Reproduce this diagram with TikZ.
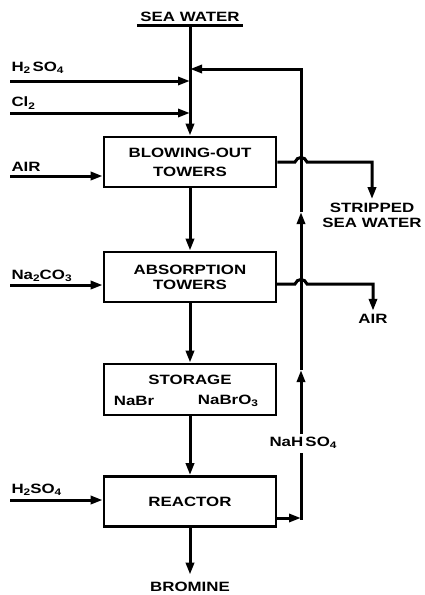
\documentclass[tikz,border=0pt]{standalone}
\usepackage{fontspec}
\newfontfamily\flowfont{Liberation Sans}[FakeStretch=1.25]
\usetikzlibrary{arrows.meta}

\newcommand{\chsub}[1]{\raisebox{-0.35ex}{\fontsize{9.5}{9.5}\selectfont #1}}

\begin{document}
\begin{tikzpicture}[x=1pt,y=-1pt,
  every node/.style={font=\flowfont\bfseries\fontsize{13.5}{15}\selectfont},
  flow/.style={line width=3pt},
  arr/.style={flow,-{Triangle[length=12pt,width=8pt]}},
  unit/.style={draw,line width=2.6pt,minimum width=172pt,minimum height=50pt,
               align=center,inner sep=0pt}]

  \useasboundingbox (0,0) rectangle (424,595);

  % ====== 1) process units ======
  \node[unit] (blow)   at (190,162)   {BLOWING-OUT\\[4pt]TOWERS};
  \node[unit] (absorb) at (190,277)   {ABSORPTION\\TOWERS};
  \node[unit, minimum height=51pt] (store) at (190,389.5) {};
  \node (storetxt) at (190,380) {STORAGE};
  \node (nabr)     at (134,401) {NaBr};
  \node (nabro)    at (228,401) {NaBrO\chsub{3}};
  \node[unit] (react)  at (190,501.5) {REACTOR};

  % ====== 2) sea water feed and main line ======
  \node (sea) at (190,17) {SEA WATER};
  \draw[line width=2.4pt] (sea.south west) -- (sea.south east);
  \coordinate (jrec) at (190,69);   % recycle joins here
  \coordinate (jh)   at (190,81);
  \coordinate (jcl)  at (190,113);
  \draw[arr] (sea.south) -- (blow.north);
  \draw[arr] (blow.south) -- (absorb.north);
  \draw[arr] (absorb.south) -- (store.north);
  \draw[arr] (store.south) -- (react.north);
  \node (bromine) at (190,587) {BROMINE};
  \draw[arr, shorten >=4pt] (react.south) -- (bromine.north);

  % ====== 3) side feeds ======
  \node[anchor=west] (h2so4a) at (8,68) {H\chsub{2}\,SO\chsub{4}};
  \coordinate (h2so4s) at (10,81);
  \draw[arr] (h2so4s) -- (jh);

  \node[anchor=west] (cl2) at (8,103) {Cl\chsub{2}};
  \coordinate (cl2s) at (10,113);
  \draw[arr] (cl2s) -- (jcl);

  \node[anchor=west] (airin) at (8,167) {AIR};
  \coordinate (airs) at (10,176);
  \draw[arr] (airs) -- (airs -| blow.west);

  \node[anchor=west] (na2co3) at (8,276) {Na\chsub{2}CO\chsub{3}};
  \coordinate (na2s) at (10,285);
  \draw[arr] (na2s) -- (na2s -| absorb.west);

  \node[anchor=west] (h2so4b) at (8,490) {H\chsub{2}SO\chsub{4}};
  \coordinate (h2s) at (10,500);
  \draw[arr] (h2s) -- (h2s -| react.west);

  % ====== 4) outlets (hop over the recycle line) ======
  \node[align=center] (strip) at (372,215) {STRIPPED\\SEA WATER};
  \draw[arr] (blow.east) -- (295,162) .. controls (297,156) and (305,156) .. (307,162)
    -- (strip.north |- blow.east) -- (strip.north);

  \node (airout) at (373,319) {AIR};
  \coordinate (aout) at (276,284);
  \draw[arr] (aout) -- (295,284) .. controls (297,278) and (305,278) .. (307,284)
    -- (airout.north |- aout) -- (airout.north);

  % ====== 5) NaHSO4 recycle ======
  \coordinate (rout)  at (276,518);
  \coordinate (rjoin) at (301,518);
  \node (nahso) at (303,443) {NaH\,SO\chsub{4}};
  \draw[arr] (rout) -- (rjoin);
  \draw[flow] (301,519.5) -- (rjoin |- nahso.south);
  \draw[arr] (rjoin |- nahso.north) -- (301,370);
  \draw[arr] (301,370) -- (301,212);
  \draw[arr] (301,212) -- (301,69) -- (jrec);

\end{tikzpicture}
\end{document}
